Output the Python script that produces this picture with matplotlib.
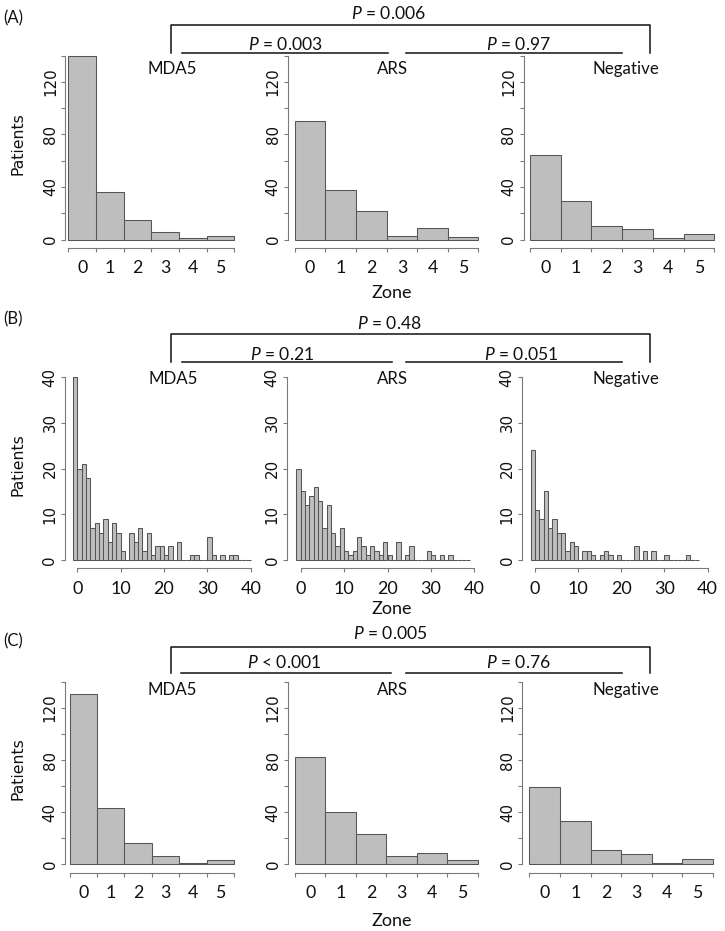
import matplotlib
matplotlib.use("Agg")
import matplotlib.pyplot as plt
from matplotlib.lines import Line2D
from matplotlib import font_manager as fm

W, H = 725, 931

# ---------------- data ----------------
groups = ["MDA5", "ARS", "Negative"]
zone_labels = ["0", "1", "2", "3", "4", "5"]

# Panel A: counts per zone (0..5)
A_mda5 = [140, 36, 15, 6, 1, 3]
A_ars = [90, 38, 22, 3, 9, 2]
A_neg = [64, 29, 10, 8, 1, 4]

# Panel B: counts per zone value 0..N (histogram, unit bins)
B_mda5 = [40, 20, 21, 18, 7, 8, 6, 9, 4, 8,
          6, 2, 0, 6, 4, 7, 2, 6, 1, 3,
          3, 1, 3, 0, 4, 0, 0, 1, 1, 0,
          0, 5, 1, 0, 1, 0, 1, 1, 0, 0, 0]
B_ars = [20, 15, 12, 14, 16, 13, 7, 12, 6, 3,
         7, 2, 1, 2, 5, 3, 1, 3, 2, 1,
         4, 1, 0, 4, 0, 1, 3, 0, 0, 0,
         2, 1, 0, 1, 0, 1, 0, 0, 0, 0]
B_neg = [24, 11, 9, 15, 7, 9, 6, 6, 2, 4,
         3, 0, 2, 2, 1, 0, 1, 2, 1, 0,
         1, 0, 0, 0, 3, 0, 2, 0, 2, 0,
         0, 1, 0, 0, 0, 0, 1, 0, 0]
B_ticks = [0, 10, 20, 30, 40]

# Panel C: counts per zone (0..5)
C_mda5 = [131, 43, 16, 6, 1, 3]
C_ars = [82, 40, 23, 6, 9, 3]
C_neg = [59, 33, 11, 8, 1, 4]

A_yticks = [0, 20, 40, 60, 80, 100, 120, 140]
A_ylabels = ["0", "", "40", "", "80", "", "120", ""]
B_yticks = [0, 10, 20, 30, 40]

P_A = ["= 0.006", "= 0.003", "= 0.97"]
P_B = ["= 0.48", "= 0.21", "= 0.051"]
P_C = ["= 0.005", "< 0.001", "= 0.76"]

# ---------------- fonts ----------------
TXT = ["Lato", "DejaVu Sans"]
names_it = {(f.name, f.style) for f in fm.fontManager.ttflist}
it_family = "Lato" if ("Lato", "italic") in names_it else "DejaVu Sans"
plt.rcParams["mathtext.fontset"] = "custom"
plt.rcParams["mathtext.it"] = it_family + ":italic"
plt.rcParams["mathtext.rm"] = "Lato"

INK = "#111111"
AXC = "#7a7a7a"
BAR_FC = "#bebebe"
BAR_EC = "#555555"

fig = plt.figure(figsize=(W / 100, H / 100), dpi=100)


def fx(x):
    return x / W


def fy(y):
    return 1 - y / H


def make_axes(px0, px1, x0, x1, py0, py1, y0, y1, xlim, ylim):
    sx = (px1 - px0) / (x1 - x0)
    sy = (py0 - py1) / (y1 - y0)
    left = px0 + (xlim[0] - x0) * sx
    right = px0 + (xlim[1] - x0) * sx
    bottom = py0 - (ylim[0] - y0) * sy
    top = py0 - (ylim[1] - y0) * sy
    ax = fig.add_axes([left / W, 1 - bottom / H, (right - left) / W, (bottom - top) / H])
    ax.set_xlim(xlim)
    ax.set_ylim(ylim)
    ax.patch.set_visible(False)
    return ax, sx, sy


def style_axes(ax, yaxis_x, xaxis_y, ytop, xb):
    for s in ["top", "right"]:
        ax.spines[s].set_visible(False)
    ax.spines["left"].set_position(("data", yaxis_x))
    ax.spines["left"].set_bounds(0, ytop)
    ax.spines["bottom"].set_position(("data", xaxis_y))
    ax.spines["bottom"].set_bounds(xb[0], xb[1])
    for s in ["left", "bottom"]:
        ax.spines[s].set_color(AXC)
        ax.spines[s].set_linewidth(0.8)
    ax.tick_params(which="major", length=2.6, width=0.8, color=AXC, direction="out")


def ftext(x, yc, s, size, fam=TXT, ha="center", **kw):
    # place text with visual (cap-height) center at yc (pixels from top)
    base = yc + 0.36 * size * 100 / 72
    fig.text(fx(x), fy(base), s, fontsize=size, family=fam, ha=ha, va="baseline",
             color=INK, **kw)


def zone_panel(counts, px0, px1, yax_px, py0, py140, xax_py):
    ax, sx, sy = make_axes(px0, px1, 0, 6, py0, py140, 0, 140,
                           (-0.6, 6.3), (-12, 142))
    edges = list(range(len(counts)))
    ax.bar(edges, counts, width=1, align="edge", color=BAR_FC, edgecolor=BAR_EC,
           linewidth=0.75)
    yax = (yax_px - px0) / sx
    xay = -(xax_py - py0) / sy
    style_axes(ax, yax, xay, 140, (0, 6))
    ax.set_yticks(A_yticks)
    ax.set_yticklabels(A_ylabels, rotation=90, va="center", family="DejaVu Sans",
                       fontsize=10.8, color=INK)
    ax.tick_params(axis="y", pad=2.5)
    ax.set_xticks(range(7))
    ax.set_xticklabels([""] * 7)
    ax.set_xticks([i + 0.5 for i in range(6)], minor=True)
    ax.set_xticklabels(zone_labels, minor=True, family=TXT, fontsize=12.8, color=INK)
    ax.tick_params(axis="x", which="minor", length=0, pad=9.0)
    return ax


def hist_panel(counts, px0, px40, yax_px, py0, py40, xax_py):
    ax, sx, sy = make_axes(px0, px40, 0, 40, py0, py40, 0, 40,
                           (-4.5, 41), (-3, 41))
    lefts = [k - 1 for k in range(len(counts))]
    ax.bar(lefts, counts, width=1, align="edge", color=BAR_FC, edgecolor=BAR_EC,
           linewidth=0.75)
    yax = (yax_px - px0) / sx
    xay = -(xax_py - py0) / sy
    style_axes(ax, yax, xay, 40, (0, 40))
    ax.set_yticks(B_yticks)
    ax.set_yticklabels([str(t) for t in B_yticks], rotation=90, va="center",
                       family="DejaVu Sans", fontsize=10.8, color=INK)
    ax.tick_params(axis="y", pad=2.5)
    ax.set_xticks(B_ticks)
    ax.set_xticklabels([str(t) for t in B_ticks], family=TXT, fontsize=13, color=INK)
    ax.tick_params(axis="x", pad=6.5)
    return ax


def bracket(ytop, ylow, texts, ytxt_top, ytxt_low, xs_txt, lines_x):
    x_l, x_r = 170.5, 650
    fig.add_artist(Line2D([fx(x_l), fx(x_l), fx(x_r), fx(x_r)],
                          [fy(ylow), fy(ytop), fy(ytop), fy(ylow)],
                          transform=fig.transFigure, color=INK, lw=1.1))
    for (a, b) in lines_x:
        fig.add_artist(Line2D([fx(a), fx(b)], [fy(ylow), fy(ylow)],
                              transform=fig.transFigure, color=INK, lw=1.1))
    ftext(xs_txt[0], ytxt_top, r"$P$ " + texts[0], 12.6)
    ftext(xs_txt[1], ytxt_low, r"$P$ " + texts[1], 12.6)
    ftext(xs_txt[2], ytxt_low, r"$P$ " + texts[2], 12.6)


# ---------------- Panel A ----------------
zone_panel(A_mda5, 68.3, 234.3, 65.0, 239.5, 55.5, 247.5)
zone_panel(A_ars, 294.7, 478.5, 287.8, 239.5, 55.5, 247.5)
zone_panel(A_neg, 529.8, 714.3, 523.5, 239.5, 55.5, 247.5)
bracket(25, 52.7, P_A, 12.7, 43.3, (388.7, 285, 518.3),
        [(181.7, 388.3), (405.7, 622.3)])
for x, g in zip((172, 392.3, 626), groups):
    ftext(x, 68.3, g, 12.2)
ftext(3, 17, "(A)", 12, ha="left")
ftext(392, 291.7, "Zone", 13)
fig.text(fx(18.5), fy(143.5), "Patients", rotation=90, ha="center", va="center",
         fontsize=11.3, family="DejaVu Sans", color=INK)

# ---------------- Panel B ----------------
hist_panel(B_mda5, 77.3, 250.7, 64.5, 560, 377.3, 568)
hist_panel(B_ars, 300.7, 474.3, 286.7, 560, 377.3, 568)
hist_panel(B_neg, 535.0, 707.5, 521.7, 560, 377.3, 568)
bracket(334.3, 362, P_B, 322.7, 353.3, (389, 282, 521.3),
        [(181.7, 391.7), (405.7, 622.3)])
for x, g in zip((173.3, 392.3, 626), groups):
    ftext(x, 378.3, g, 12.2)
ftext(3, 318.3, "(B)", 12, ha="left")
ftext(392, 608, "Zone", 13)
fig.text(fx(18.5), fy(465), "Patients", rotation=90, ha="center", va="center",
         fontsize=11.3, family="DejaVu Sans", color=INK)

# ---------------- Panel C ----------------
zone_panel(C_mda5, 69.5, 234.4, 64.7, 864.3, 681.9, 872.7)
zone_panel(C_ars, 295.0, 477.6, 287.6, 864.3, 681.9, 872.7)
zone_panel(C_neg, 529.4, 713.0, 522.4, 864.3, 681.9, 872.7)
bracket(646.7, 673.3, P_C, 632.7, 661.7, (390, 284, 518),
        [(180.5, 391), (406, 621.5)])
for x, g in zip((172, 392.3, 626), groups):
    ftext(x, 689.3, g, 12.2)
ftext(3, 640, "(C)", 12, ha="left")
ftext(392, 920, "Zone", 13)
fig.text(fx(18.5), fy(768.3), "Patients", rotation=90, ha="center", va="center",
         fontsize=11.3, family="DejaVu Sans", color=INK)

fig.savefig("out.png", dpi=100)
